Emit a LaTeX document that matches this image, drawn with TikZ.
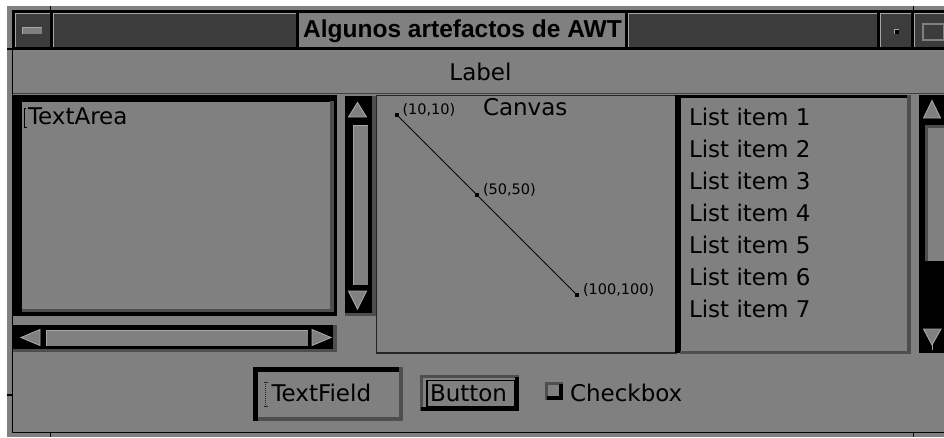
\documentclass[tikz,border=0pt]{standalone}
\usepackage{fontspec}
\setmainfont{DejaVu Sans}
\newfontfamily\ttlfont{Liberation Sans}
\definecolor{wg}{HTML}{808080}
\definecolor{stip}{HTML}{3C3C3C}
\definecolor{edge}{HTML}{4E4E4E}
\definecolor{hl}{HTML}{A6A6A6}
\begin{document}
\begin{tikzpicture}[x=1pt,y=-1pt,
  txt/.style={inner sep=0pt, outer sep=0pt, anchor=base west, text=black, font=\fontsize{23}{27}\selectfont},
  smalltxt/.style={inner sep=0pt, outer sep=0pt, anchor=base west, text=black, font=\fontsize{14.5}{17}\selectfont},
  stipfill/.style={fill=stip},
  tri/.style={fill=wg, draw=hl, line width=0.9pt, line join=miter},
  frameline/.style={draw=black, line width=1.6pt},
  hlline/.style={draw=hl, line width=1pt},
  ptsq/.style={rectangle, fill=black, draw=none, minimum size=4.5pt, inner sep=0pt}
]
\useasboundingbox (0,0) rectangle (944,437);
\fill[white] (0,0) rectangle (944,437);
\fill[wg] (7,6) rectangle (944,437);

% window frame
\draw[frameline] (944,10.5) -- (12.5,10.5) -- (12.5,432.5) -- (944,432.5);
\draw[frameline] (50.5,6) -- (50.5,10.5);
\draw[frameline] (913.5,6) -- (913.5,10.5);
\draw[frameline] (7,49) -- (12.5,49);
\draw[frameline] (7,395) -- (12.5,395);
\draw[frameline] (50.5,432.5) -- (50.5,437);
\draw[frameline] (913.5,432.5) -- (913.5,437);

% title bar
\fill[black] (12,11) rectangle (944,50);
\fill[stipfill] (15,13) rectangle (50,47);
\draw[hlline] (15.5,47) -- (15.5,13.5) -- (50,13.5);
\fill[wg] (22,27) rectangle (42,34);
\draw[hl, line width=0.8pt] (22,34) -- (22,27) -- (42,27);
\fill[stipfill] (53,13) rectangle (296,47);
\draw[hlline] (53.5,47) -- (53.5,13.5) -- (296,13.5);
\fill[wg] (299,13) rectangle (625,47);
\node[anchor=base west, inner sep=0pt, text=black, font=\ttlfont\bfseries\fontsize{24.5}{28}\selectfont] (title) at (303,37) {Algunos artefactos de AWT};
\fill[stipfill] (628,13) rectangle (877,47);
\draw[hlline] (628.5,47) -- (628.5,13.5) -- (877,13.5);
\fill[stipfill] (880,13) rectangle (911,47);
\draw[hlline] (880.5,47) -- (880.5,13.5) -- (911,13.5);
\fill[black] (894,29) rectangle (899,34);
\draw[hl, line width=0.8pt] (894,34) -- (894,29) -- (899,29);
\fill[stipfill] (914,13) rectangle (944,47);
\draw[hlline] (914.5,47) -- (914.5,13.5) -- (944,13.5);
\draw[wg, line width=2pt] (923,24) rectangle (944,40);

% label
\node[anchor=base, inner sep=0pt, text=black, font=\fontsize{23}{27}\selectfont] (lbl) at (480.5,80) {Label};
\draw[black!75, line width=1pt] (13,93.5) -- (944,93.5);

% TextArea
\fill[black] (13,95) rectangle (337,316);
\fill[wg] (22,102) rectangle (331,309);
\fill[edge] (330,101) rectangle (334,312);
\fill[edge] (22,309) rectangle (334,312);
\draw[black, line width=1pt] (26,108) -- (24.5,108) -- (24.5,127.5) -- (27,127.5);
\node[txt] (ta) at (28,124) {TextArea};

% vertical scrollbar of TextArea
\fill[black] (345,96) rectangle (373,313);
\fill[edge] (372,96) rectangle (376,316);
\fill[edge] (345,313) rectangle (376,316);
\draw[tri] (348.5,117) -- (357.5,102.5) -- (366.5,117) -- cycle;
\fill[wg] (353,125) rectangle (368,285);
\draw[hlline] (353.5,285) -- (353.5,125.5) -- (368,125.5);
\draw[tri] (348.5,291) -- (366.5,291) -- (357.5,309) -- cycle;

% horizontal scrollbar of TextArea
\fill[black] (13,325) rectangle (333,349);
\fill[edge] (333,325) rectangle (337,352);
\fill[edge] (13,348.5) rectangle (337,352);
\draw[tri] (21,337.5) -- (40,329.5) -- (40,345.5) -- cycle;
\fill[wg] (46,330) rectangle (308,346);
\draw[hlline] (46.5,346) -- (46.5,330.5) -- (308,330.5);
\draw[tri] (312,329.5) -- (331,337.5) -- (312,345.5) -- cycle;

% Canvas
\draw[black!85, line width=1.3pt] (376.5,95.5) rectangle (676,353);
\node[txt] (cv) at (483,115) {Canvas};
\node[ptsq] (q1) at (397,115) {};
\node[ptsq] (q2) at (477,195) {};
\node[ptsq] (q3) at (577,295) {};
\draw[black, line width=1pt] (q1.center) -- (q2.center) -- (q3.center);
\node[smalltxt] (l1) at (402.5,114) {(10,10)};
\node[smalltxt] (l2) at (483,194) {(50,50)};
\node[smalltxt] (l3) at (583,294) {(100,100)};

% List
\fill[black] (675,95) rectangle (681,353);
\fill[black] (675,94.5) rectangle (910,98);
\fill[edge] (906.5,95) rectangle (910.5,354);
\fill[edge] (680,350.5) rectangle (910.5,354);
\foreach \i in {1,...,7}
  \node[txt] (li\i) at (689,{125+32*(\i-1)}) {List item \i};

% List scrollbar
\fill[black] (919,94.5) rectangle (944,353);
\draw[tri] (923.5,118) -- (932,100.5) -- (940.5,118) -- cycle;
\fill[wg] (925,125) rectangle (944,261);
\fill[edge] (925,125) rectangle (928,261);
\fill[edge] (925,125) rectangle (944,128);
\draw[tri] (923.5,329) -- (941,329) -- (932,345) -- cycle;
\draw[hl, line width=0.9pt] (932,345) -- (932,350);

% TextField
\fill[edge] (253,367) rectangle (403,420.5);
\fill[black] (253,367) rectangle (399,371.5);
\fill[black] (253,367) rectangle (258,420.5);
\fill[wg] (258,371.5) rectangle (399,416.5);
\draw[black!85, line width=0.9pt, dash pattern=on 1pt off 1pt] (265.5,382) -- (265.5,406.5);
\draw[black!85, line width=0.9pt] (263.5,382) -- (267.5,382);
\draw[black!85, line width=0.9pt] (263.5,406.5) -- (267.5,406.5);
\node[txt] (tf) at (271.5,401) {TextField};

% Button
\fill[edge] (420,375) rectangle (519,411);
\fill[wg] (423,378) rectangle (515,407);
\fill[black] (515,377) rectangle (519,411);
\fill[black] (421,407) rectangle (519,411);
\draw[black, line width=1.2pt] (427,380.6) rectangle (514.4,406.4);
\node[txt] (bt) at (430,401) {Button};

% Checkbox
\fill[edge] (545,382) rectangle (563,400);
\fill[wg] (548,385) rectangle (560,397);
\fill[black] (559,384) rectangle (563,400);
\fill[black] (547,396) rectangle (563,400);
\node[txt] (cb) at (570,401) {Checkbox};
\end{tikzpicture}
\end{document}
